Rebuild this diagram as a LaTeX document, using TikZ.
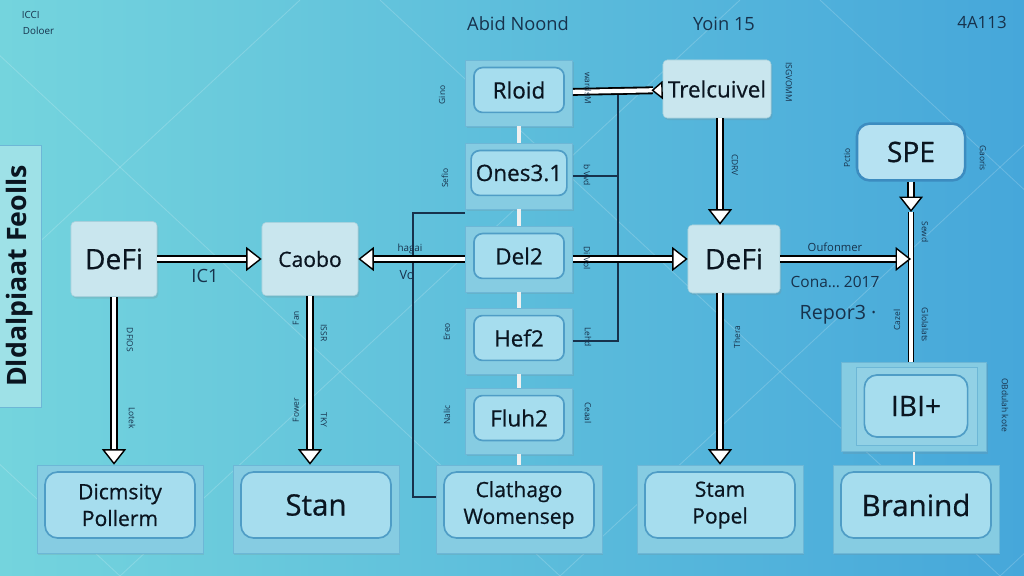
\documentclass[tikz,border=0pt]{standalone}
\usepackage{fontspec}
\setmainfont{Open Sans}
\newfontfamily\nodefont{Open Sans}[FakeBold=0.6]
\usepackage{xcolor}
\usepackage{tikz}
\usetikzlibrary{arrows.meta, positioning, shadows}

\definecolor{bgleft}{HTML}{74D4DD}
\definecolor{bgright}{HTML}{46A7DA}
\definecolor{boxfill}{HTML}{C9E6EE}
\definecolor{boxline}{HTML}{A7D0DC}
\definecolor{panelfill}{HTML}{86CCE2}
\definecolor{panelline}{HTML}{6DB7D6}
\definecolor{innerfill}{HTML}{A6DDEE}
\definecolor{innerline}{HTML}{4F9DC6}
\definecolor{spefill}{HTML}{B6E2F2}
\definecolor{speline}{HTML}{3C8CC0}
\definecolor{inkdark}{HTML}{0A1520}
\definecolor{thinink}{HTML}{17324C}

\begin{document}
\begin{tikzpicture}[x=0.025cm, y=-0.025cm,
  plainbox/.style={rectangle, rounded corners=3pt, draw=boxline, fill=boxfill, text=inkdark,
    drop shadow={opacity=0.2, shadow xshift=1pt, shadow yshift=-1.5pt}},
  panel/.style={rectangle, draw=panelline, fill=panelfill,
    drop shadow={opacity=0.18, shadow xshift=1pt, shadow yshift=-1.5pt}},
  inner/.style={rectangle, rounded corners=6pt, draw=innerline, line width=1.2pt, fill=innerfill,
    text=inkdark, align=center},
  fatarrow/.style={draw=white, line width=3pt,
    -{Triangle[color=black, fill=white, line width=1pt, length=11pt, width=17pt]},
    preaction={draw=black, line width=5.6pt, -, shorten >=10pt}},
  revarrow/.style={draw=white, line width=3pt,
    -{Triangle[reversed, color=black, fill=white, line width=1pt, length=8pt, width=13pt]},
    preaction={draw=black, line width=5.6pt, -, shorten >=7pt}},
  fatline/.style={draw=white, line width=2.6pt, preaction={draw=black, line width=4.4pt}},
  stub/.style={draw=white!88!gray, line width=2.6pt},
  thinwire/.style={draw=thinink, line width=0.8pt},
  bgline/.style={draw=white, opacity=0.18, line width=0.6pt},
  note/.style={text=thinink, font=\fontsize{6}{7}\selectfont},
  label/.style={text=thinink, font=\fontsize{#1}{#1}\selectfont},
  fs/.style={font=\nodefont\fontsize{#1}{19}\selectfont}
]
\useasboundingbox (0,0) rectangle (1024,576);
\shade[left color=bgleft, right color=bgright] (0,0) rectangle (1024,576);
\foreach \s in {-500,-60,380,820}
  \draw[bgline] (\s,0) -- ++(620,576);
\foreach \s in {300,740,1180,1620}
  \draw[bgline] (\s,0) -- ++(-620,576);

\node[label=7, anchor=west] (corner1) at (17,15) {ICCI};
\node[label=7, anchor=west] (corner2) at (18,31) {Doloer};
\node[label=13] (title1) at (518,24) {Abid Noond};
\node[label=13] (title2) at (724,24) {Yoin 15};
\node[label=12] (title3) at (982,22) {4A113};

\node[rectangle, draw=panelline, fill=bgleft!70!white, rotate=90, minimum width=6.55cm,
  minimum height=1.05cm, text=inkdark, font=\bfseries\fontsize{19}{21}\selectfont] (sidebar) at (20,276) {Dldalpiaat Feolls};

\node[plainbox, minimum width=2.15cm, minimum height=1.875cm, fs=20] (defil) at (114,259) {DeFi};
\node[plainbox, minimum width=2.4cm, minimum height=1.83cm, fs=15] (caobo) at (310,259) {Caobo};
\node[plainbox, minimum width=2.7cm, minimum height=1.45cm, fs=16] (trel) at (717,89) {Trelcuivel};
\node[plainbox, minimum width=2.3cm, minimum height=1.7cm, fs=20] (defir) at (734,259) {DeFi};

\foreach \nm/\yy/\txt in {rloid/93/Rloid, ones/176/Ones3.1, del/259/Del2, hef/341/Hef2, fluh/421/Fluh2} {
  \node[panel, minimum width=2.68cm, minimum height=1.65cm] (\nm) at (519,\yy) {};
  \node[inner, minimum width=2.25cm, minimum height=1.12cm, fs=16] (\nm-txt) at (519,\yy-3) {\txt};
}

\foreach \nm/\xx/\txt/\sz in {dicm/120/{Dicmsity\\Pollerm}/15, stan/316/Stan/21, clath/519/{Clathago\\Womensep}/15, stam/720/{Stam\\Popel}/15, bran/916/Branind/21} {
  \node[panel, minimum width=4.15cm, minimum height=2.2cm] (\nm) at (\xx,509) {};
  \node[inner, rounded corners=9pt, minimum width=3.75cm, minimum height=1.65cm, fs=\sz] (\nm-txt) at (\xx,505) {\txt};
}

\node[rectangle, rounded corners=9pt, draw=speline, line width=1.8pt, fill=spefill, text=inkdark,
  minimum width=2.7cm, minimum height=1.42cm, fs=20] (spe) at (911,152) {SPE};
\node[panel, minimum width=3.63cm, minimum height=2.23cm] (ibiout) at (914,407) {};
\node[rectangle, draw=panelline, fill=panelfill!90!white, minimum width=3.03cm, minimum height=1.95cm] (ibimid) at (917,406) {};
\node[inner, rounded corners=9pt, minimum width=2.58cm, minimum height=1.55cm, fs=20] (ibi) at (916,406) {IBI+};

\foreach \a/\b in {rloid/ones, ones/del, del/hef, hef/fluh, fluh/clath}
  \draw[stub] (\a) -- (\b);
\draw[stub, line width=1.6pt] (ibiout) -- (ibiout |- bran.north);

\coordinate (vtop) at (618,90);
\coordinate (lwire) at (413,213);
\coordinate (lbot) at (413,497);
\coordinate (spetip) at (911,212);
\draw[thinwire] (hef) -| (vtop);
\draw[thinwire] (ones) -- (ones -| vtop);
\draw[thinwire] (ones.south west |- lwire) -- (lwire) -- (lbot) -- (lbot -| clath.west);

\draw[revarrow] (rloid) -- (trel);
\draw[fatarrow] (defil) -- (caobo);
\draw[fatarrow] (del) -- (caobo);
\draw[fatarrow] (del) -- (defir);
\draw[fatarrow] (trel.south -| stam) -- (defir.north -| stam);
\draw[fatarrow] (defil) -- (defil |- dicm.north);
\draw[fatarrow] (caobo) -- (caobo |- stan.north);
\draw[fatarrow] (defir.south -| stam) -- (stam.north);
\draw[fatline] (spetip) -- (spetip |- ibiout.north);
\draw[fatarrow] (spe) -- (spetip);
\draw[fatarrow] (defir) -- (defir -| spe);

\node[label=13] (ic1) at (205,276) {IC1};
\node[label=7] (hagai) at (410,249) {hagai};
\node[label=9] (vo) at (407,275) {Vo};
\node[label=8] (oufon) at (835,247) {Oufonmer};
\node[label=11] (cona) at (835,282) {Cona\ldots\ 2017};
\node[label=14] (repor) at (838,315) {Repor3 ·};

\foreach \xx/\yy/\rt/\txt in {442/95/90/Gino, 588/88/-90/wardsM, 789/82/-90/ISGVOMM, 735/165/-90/CDRV,
  445/178/90/Sefio, 587/175/-90/b Vvd, 587/258/-90/Di Vol, 447/332/90/Ereo, 588/337/-90/Lehd,
  447/415/90/Nalic, 588/413/-90/Ceaal, 130/340/-90/DFIOS, 132/418/-90/Lotek,
  296/318/90/Fan, 324/333/-90/ISSR, 296/410/90/Fower, 324/420/-90/TKY, 737/337/90/Thera,
  925/232/-90/Sewd, 925/325/-90/Glolalats, 897/320/90/Cazel, 847/158/90/Pctio, 983/158/-90/Gaoris,
  1005/405/-90/OBdulah kote}
  \node[note, rotate=\rt] at (\xx,\yy) {\txt};
\end{tikzpicture}
\end{document}
